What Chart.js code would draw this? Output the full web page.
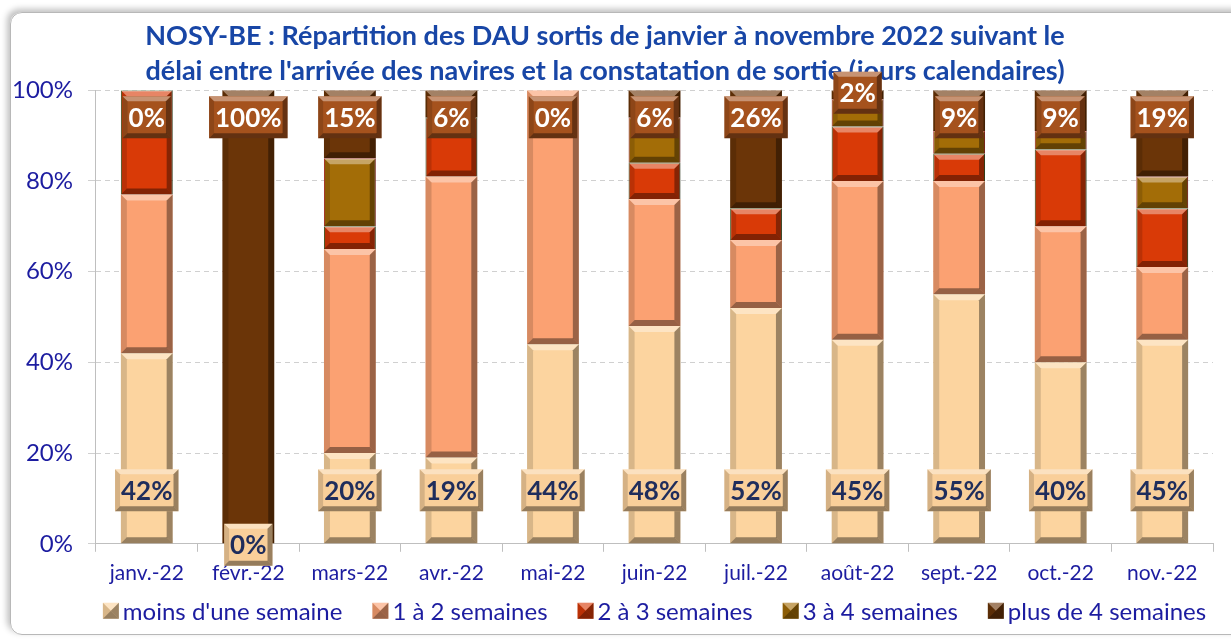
<!DOCTYPE html>
<html>
<head>
<meta charset="utf-8">
<script src="https://cdn.jsdelivr.net/npm/chart.js@4/dist/chart.umd.min.js"></script>
<style>
  html, body { margin: 0; padding: 0; background: #fff; }
  #wrap { position: relative; width: 1231px; height: 639px; overflow: hidden; }
  #frame {
    position: absolute; left: 10px; top: 12px; width: 1240px; height: 621px;
    border: 1px solid #b8b8b8; border-radius: 12px;
    box-shadow: -3px -3px 6px rgba(0, 0, 0, 0.25);
  }
  #box { position: absolute; left: 0; top: 0; width: 1231px; height: 639px; }
</style>
</head>
<body>
<div id="wrap">
  <div id="frame"></div>
  <div id="box"><canvas id="c"></canvas></div>
</div>
<script>
const FONT = "Lato, 'Noto Sans', sans-serif";
const NAVY = "#1c1ca0";
const TITLE_BLUE = "#1846a6";

const months = ["janv.-22", "févr.-22", "mars-22", "avr.-22", "mai-22", "juin-22",
  "juil.-22", "août-22", "sept.-22", "oct.-22", "nov.-22"];
const seriesNames = ["moins d'une semaine", "1 à 2 semaines", "2 à 3 semaines",
  "3 à 4 semaines", "plus de 4 semaines"];

// % of DAU per delay class
const lessThanOneWeek = [42, 0, 20, 19, 44, 48, 52, 45, 55, 40, 45];
const oneToTwoWeeks   = [35, 0, 45, 62, 56, 28, 15, 35, 25, 30, 16];
const twoToThreeWeeks = [23, 0, 5, 13, 0, 8, 7, 12, 6, 17, 13];
const threeToFourWeeks = [0, 0, 15, 0, 0, 10, 0, 6, 5, 4, 7];
const moreThanFourWeeks = [0, 100, 15, 6, 0, 6, 26, 2, 9, 9, 19];
const yTicks = [0, 20, 40, 60, 80, 100];

const fills = ["#fcd49f", "#fba172", "#d93a07", "#a36d07", "#6b3508"];
const borders = ["#fcd49f", "#fba172", "#4f6228", "#c0392b", "#6b3508"];

function poly(ctx, pts, color) {
  ctx.beginPath();
  ctx.moveTo(pts[0][0], pts[0][1]);
  pts.slice(1).forEach((p) => ctx.lineTo(p[0], p[1]));
  ctx.closePath();
  ctx.fillStyle = color;
  ctx.fill();
}

function bevel(ctx, x0, y0, x1, y1, b) {
  if (y1 - y0 < 1) return;
  b = Math.min(b, (y1 - y0) / 2, (x1 - x0) / 2);
  poly(ctx, [[x0, y0], [x1, y0], [x1 - b, y0 + b], [x0 + b, y0 + b]], "rgba(255,255,255,0.38)");
  poly(ctx, [[x0, y0], [x0 + b, y0 + b], [x0 + b, y1 - b], [x0, y1]], "rgba(0,0,0,0.14)");
  poly(ctx, [[x1, y0], [x1, y1], [x1 - b, y1 - b], [x1 - b, y0 + b]], "rgba(0,0,0,0.38)");
  poly(ctx, [[x0, y1], [x1, y1], [x1 - b, y1 - b], [x0 + b, y1 - b]], "rgba(0,0,0,0.4)");
}

function labelBox(ctx, cx, cy, text, fill, color) {
  ctx.font = "bold 26px " + FONT;
  const w = ctx.measureText(text).width + 12;
  const h = 42;
  const x0 = cx - w / 2, y0 = cy - h / 2;
  ctx.fillStyle = fill;
  ctx.fillRect(x0, y0, w, h);
  bevel(ctx, x0, y0, x0 + w, y0 + h, 5);
  ctx.fillStyle = color;
  ctx.textAlign = "center";
  ctx.textBaseline = "middle";
  ctx.fillText(text, cx, cy + 1);
}

const barDeco = {
  id: "barDeco",
  afterDatasetsDraw(chart) {
    const ctx = chart.ctx;
    ctx.save();
    chart.data.datasets.forEach((ds, di) => {
      chart.getDatasetMeta(di).data.forEach((bar) => {
        const p = bar.getProps(["x", "y", "base", "width"], true);
        bevel(ctx, p.x - p.width / 2, Math.min(p.y, p.base), p.x + p.width / 2, Math.max(p.y, p.base), 6);
      });
    });
    const top = chart.scales.y.getPixelForValue(100);
    chart.getDatasetMeta(0).data.forEach((bar, i) => {
      const p = bar.getProps(["x", "y", "base"], true);
      const v = lessThanOneWeek[i];
      const cy = v > 0 ? p.base - 53 : p.base + 1;
      labelBox(ctx, p.x, cy, v + "%", "#f9cf9a", "#1f2d5c");
    });
    chart.getDatasetMeta(4).data.forEach((bar, i) => {
      const p = bar.getProps(["x", "y", "base"], true);
      const v = moreThanFourWeeks[i];
      const cy = v > 0 && v < 5 ? (p.y + p.base) / 2 - 2 : top + 27;
      labelBox(ctx, p.x, cy, v + "%", "#a5521d", "#ffffff");
    });
    ctx.restore();
  },
};

// legend drawn by hand: Chart.js ties item spacing to vertical padding
const bottomLegend = {
  id: "bottomLegend",
  afterDraw(chart) {
    const ctx = chart.ctx;
    const area = chart.chartArea;
    const box = 16, gapText = 4, gapItem = 30;
    ctx.save();
    ctx.font = "24px " + FONT;
    const widths = seriesNames.map((s) => ctx.measureText(s).width);
    const total = widths.reduce((a, w) => a + w + box + gapText, 0) + gapItem * (seriesNames.length - 1);
    let x = (area.left + area.right) / 2 - total / 2;
    const cy = area.bottom + 67;
    seriesNames.forEach((name, i) => {
      const y0 = cy - box / 2;
      ctx.fillStyle = fills[i];
      ctx.fillRect(x, y0, box, box);
      bevel(ctx, x, y0, x + box, y0 + box, box / 2);
      ctx.fillStyle = NAVY;
      ctx.textAlign = "left";
      ctx.textBaseline = "middle";
      ctx.fillText(name, x + box + gapText, cy + 1);
      x += box + gapText + widths[i] + gapItem;
    });
    ctx.restore();
  },
};

const series = [lessThanOneWeek, oneToTwoWeeks, twoToThreeWeeks, threeToFourWeeks, moreThanFourWeeks];

new Chart(document.getElementById("c"), {
  type: "bar",
  data: {
    labels: months,
    datasets: series.map((data, i) => ({
      label: seriesNames[i],
      data,
      backgroundColor: fills[i],
      borderColor: borders[i],
      borderWidth: i === 2 || i === 3 ? 1 : 0,
      categoryPercentage: 1,
      barPercentage: 0.51,
    })),
  },
  options: {
    responsive: true,
    maintainAspectRatio: false,
    animation: false,
    layout: { padding: { left: -3, right: 18, bottom: 44, top: 0 } },
    plugins: {
      title: {
        display: true,
        text: [
          "NOSY-BE : Répartition des DAU sortis de janvier à novembre 2022 suivant le",
          "délai entre l'arrivée des navires et la constatation de sortie (jours calendaires)",
        ],
        color: TITLE_BLUE,
        font: { family: FONT, size: 27, weight: "bold", lineHeight: 1.3 },
        padding: { top: 19, bottom: 1 },
      },
      legend: { display: false },
      tooltip: { enabled: false },
    },
    scales: {
      x: {
        stacked: true,
        grid: { offset: true, drawOnChartArea: false, color: "#bfbfbf", tickLength: 8 },
        border: { color: "#bfbfbf" },
        ticks: { color: NAVY, font: { family: FONT, size: 21 }, padding: 9 },
      },
      y: {
        stacked: true,
        min: 0,
        max: 100,
        afterBuildTicks: (axis) => { axis.ticks = yTicks.map((v) => ({ value: v })); },
        grid: { color: "#d0d0d0", tickLength: 8 },
        border: { color: "#bfbfbf", dash: [5, 4] },
        ticks: {
          color: NAVY,
          font: { family: FONT, size: 24 },
          padding: 15,
          callback: (v) => v + "%",
        },
      },
    },
  },
  plugins: [barDeco, bottomLegend],
});
</script>
</body>
</html>
